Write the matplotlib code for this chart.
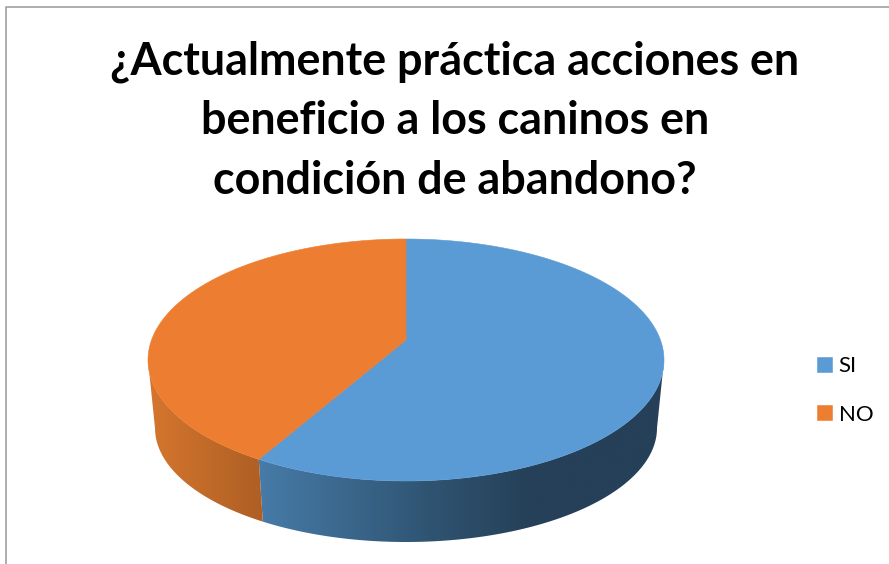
import numpy as np
import matplotlib
matplotlib.use("Agg")
import matplotlib.pyplot as plt
from matplotlib.colors import LinearSegmentedColormap
from matplotlib.patches import Polygon

W, H = 889, 564

title = "¿Actualmente práctica acciones en\nbeneficio a los caninos en\ncondición de abandono?"
labels = ["SI", "NO"]
values = [58.25, 41.75]
colors = ["#5B9BD5", "#ED7D31"]

# top ellipse and bottom ellipse, in pixels
cx, cy, rx, ry = 406, 360, 258, 121
bot_cy, bot_rx, bot_ry = 428, 251, 114
apex = 20 / 121  # pie centre sits above the ellipse centre (perspective)

# side wall shades, left to right
blue_side = LinearSegmentedColormap.from_list("b", [(0, "#477BA8"), (0.42, "#2F5472"), (0.67, "#254058"), (1, "#254058")])
orange_side = LinearSegmentedColormap.from_list("o", ["#D5762E", "#AE5F24"])

plt.rcParams["font.family"] = ["Lato", "DejaVu Sans"]

fig = plt.figure(figsize=(W / 100, H / 100), dpi=100)
ax = fig.add_axes([0, 0, 1, 1])


def warp(t):
    # circle to ellipse, moving the centre up to the apex
    x, y = np.sin(t), np.cos(t)
    d = 1 + apex * y
    return x * np.sqrt(1 - apex ** 2) / d, (y + apex) / d


def wall(u0, u1, cmap):
    u = np.linspace(u0, u1, 120)
    xt, yt = np.sin(u), np.cos(u)
    xb = np.sin(u[::-1]) * bot_rx / rx
    yb = (cy - bot_cy) / ry + np.cos(u[::-1]) * bot_ry / ry
    poly = Polygon(np.c_[np.r_[xt, xb], np.r_[yt, yb]], transform=ax.transData, fc="none", ec="none")
    ax.add_patch(poly)
    x0, x1 = min(xt.min(), xb.min()), max(xt.max(), xb.max())
    im = ax.imshow(np.linspace(0, 1, 256)[None, :], cmap=cmap, aspect="auto", zorder=2,
                   extent=(x0, x1, -2, 1.1), vmin=0, vmax=1, interpolation="bilinear")
    im.set_clip_path(poly)


# angle where the slices meet, clockwise from the top
split = 2 * np.pi * values[0] / sum(values)
sx, sy = warp(split)
u_split = np.arctan2(sx, sy) % (2 * np.pi)

wall(np.pi / 2, u_split, blue_side)
wall(u_split, 3 * np.pi / 2, orange_side)

# top face
wedges = []
start = 0
for v, c in zip(values, colors):
    stop = start + 2 * np.pi * v / sum(values)
    x, y = warp(np.linspace(start, stop, 240))
    wedges += ax.fill(np.r_[0, x], np.r_[apex, y], color=c, lw=0.4, zorder=3)
    start = stop

ax.set_xlim((0 - cx) / rx, (W - cx) / rx)
ax.set_ylim((cy - H) / ry, cy / ry)
ax.axis("off")

fig.text(455 / W, 1 - 121 / H, title, ha="center", va="center", fontsize=32.3,
         fontweight="bold", linespacing=1.52, color="black")

ax.legend(wedges, labels, loc="center left", bbox_to_anchor=(817 / W, 1 - 390.5 / H),
          bbox_transform=fig.transFigure, frameon=False, fontsize=16,
          handlelength=0.675, handleheight=0.675, handletextpad=0.3,
          labelspacing=1.27, borderpad=0, borderaxespad=0)

# outer border of the chart area
fig.add_artist(plt.Line2D([5.5 / W, 5.5 / W, 1], [0, 1 - 6.5 / H, 1 - 6.5 / H],
                          color="#A0A0A0", lw=1.2))

fig.savefig("out.png", dpi=100)
